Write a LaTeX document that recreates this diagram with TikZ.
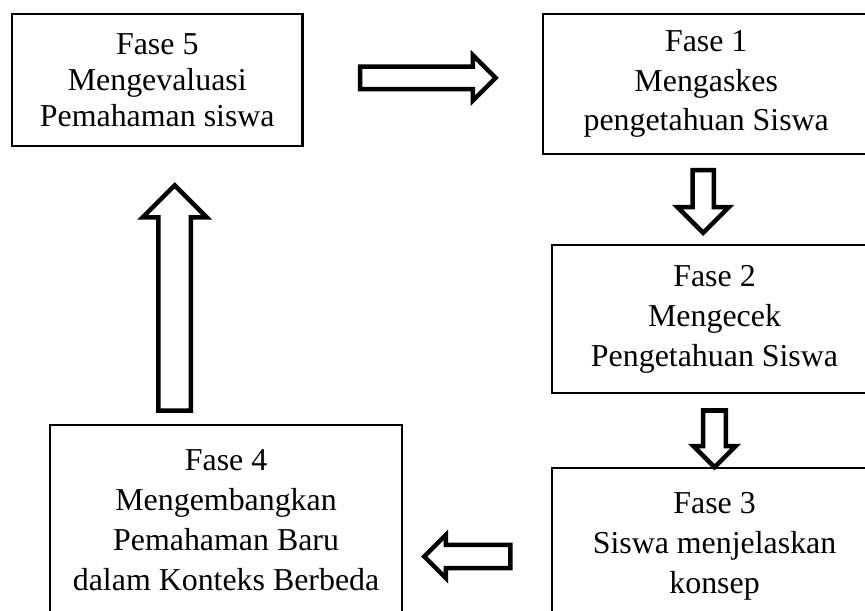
\documentclass[tikz,border=0pt]{standalone}
\usepackage{fontspec}
\setmainfont{Liberation Serif}
\usetikzlibrary{shapes.arrows, calc}
\tikzset{
	fase/.style={draw, line width=0.8pt, align=center, inner sep=0pt, font=\fontsize{12}{15}\selectfont},
	fatarrow/.style n args={3}{single arrow, draw, line width=1.7pt, inner xsep=0pt, inner ysep=#2, outer sep=0pt,
		single arrow head indent=0pt, minimum height=#1, single arrow head extend=#3}
}

\begin{document}
\begin{tikzpicture}
	\useasboundingbox (0,0) rectangle (11.44,8.08);
	\clip (0,0) rectangle (11.44,8.08);
	
	\node[fase, minimum width=3.84cm, minimum height=1.75cm, font=\fontsize{12}{13.5}\selectfont] (fase5) at (2.08,7.02) {Fase 5\\Mengevaluasi\\Pemahaman siswa};
	\node[fase, minimum width=4.31cm, minimum height=1.85cm] (fase1) at (9.34,6.97) {Fase 1\\Mengaskes\\pengetahuan Siswa};
	\node[fase, minimum width=4.29cm, minimum height=1.95cm] (fase2) at (9.45,3.86) {Fase 2\\Mengecek\\Pengetahuan Siswa};
	\node[fase, minimum width=4.29cm, minimum height=2.09cm] (fase3) at (9.45,0.85) {Fase 3\\Siswa menjelaskan\\konsep};
	\node[fase, minimum width=4.66cm, minimum height=2.51cm] (fase4) at (2.99,1.2) {Fase 4\\Mengembangkan\\Pemahaman Baru\\dalam Konteks Berbeda};
	
	\node[fatarrow={1.79cm}{0.12cm}{0.15cm}, anchor=tail] (a51) at ($(fase5.east)+(0.75,0.03)$) {};
	\node[fatarrow={0.83cm}{0.11cm}{0.2cm}, rotate=-90, anchor=tail] (a12) at ($(fase1.south)+(-0.04,-0.2)$) {};
	\node[fatarrow={0.75cm}{0.12cm}{0.13cm}, rotate=-90, anchor=tail] (a23) at ($(fase2.south)+(0,-0.22)$) {};
	\node[fatarrow={1.14cm}{0.125cm}{0.13cm}, rotate=180, anchor=tail] (a34) at ($(fase3.west)+(-0.54,-0.13)$) {};
	\node[fatarrow={2.98cm}{0.185cm}{0.21cm}, rotate=90, anchor=tail] (a45) at ($(fase4.north)+(-0.68,0.18)$) {};
	
\end{tikzpicture}
\end{document}
